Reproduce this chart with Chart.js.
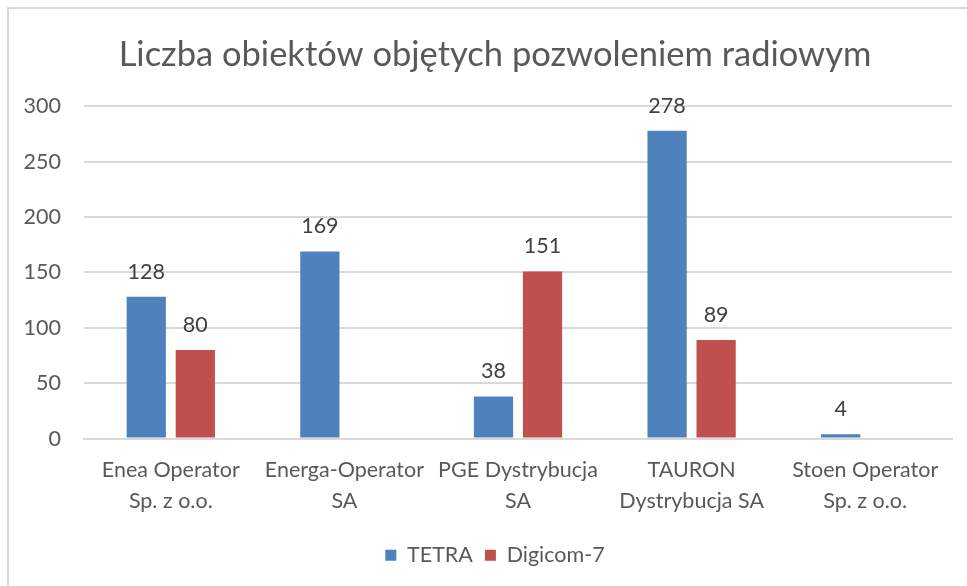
<!DOCTYPE html>
<html>
<head>
<meta charset="utf-8">
<script src="https://cdn.jsdelivr.net/npm/chart.js@4"></script>
<style>
    html, body { margin: 0; padding: 0; background: #fff; }
    #frame {
        position: absolute; left: 7px; top: 7px; width: 980px; height: 600px;
        border-left: 2px solid #d9d9d9; border-top: 2px solid #d9d9d9;
    }
    #wrap { position: absolute; left: 0; top: 0; width: 967px; height: 586px; }
</style>
</head>
<body>
<div id="frame"></div>
<div id="wrap"><canvas id="bar_chart"></canvas></div>
<script>
// Chart data
const title_text = 'Liczba obiektów objętych pozwoleniem radiowym';
const categories = [
    ['Enea Operator', 'Sp. z o.o.'],
    ['Energa-Operator', 'SA'],
    ['PGE Dystrybucja', 'SA'],
    ['TAURON', 'Dystrybucja SA'],
    ['Stoen Operator', 'Sp. z o.o.']
];
const tetra_values = [128, 169, 38, 278, 4];
const digicom_values = [80, null, 151, 89, null];
const y_ticks = [0, 50, 100, 150, 200, 250, 300];

const font_family = 'Lato, "Open Sans", sans-serif';
const font_size = 21.5;

// Value labels above bars
const bar_labels = {
    id: 'bar_labels',
    afterDatasetsDraw(chart){
        let ctx = chart.ctx;
        ctx.save();
        ctx.font = font_size + 'px ' + font_family;
        ctx.fillStyle = '#404040';
        ctx.textAlign = 'center';
        ctx.textBaseline = 'middle';
        chart.data.datasets.forEach(function(ds, i){
            let meta = chart.getDatasetMeta(i);
            meta.data.forEach(function(bar, j){
                if (ds.data[j] == null) return;
                ctx.fillText(ds.data[j], bar.x, bar.y - 25);
            });
        });
        ctx.restore();
    }
};

// Title and legend sit centred on the whole frame, not on the plot
const center_shift = {
    id: 'center_shift',
    afterLayout(chart){
        const dx = 19;
        [chart.titleBlock, chart.legend].forEach(function(box){
            if (!box) return;
            box.left += dx;
            box.right += dx;
        });
    }
};

var ctx = document.getElementById('bar_chart').getContext('2d');

var bar_chart = new Chart(ctx, {
    type: 'bar',
    data: {
        labels: categories,
        datasets: [{
            label: 'TETRA',
            data: tetra_values,
            backgroundColor: '#4F81BD',
            barPercentage: 0.8,
            categoryPercentage: 0.565
        }, {
            label: 'Digicom-7',
            data: digicom_values,
            backgroundColor: '#C0504D',
            barPercentage: 0.8,
            categoryPercentage: 0.565
        }]
    },
    options: {
        responsive: true,
        maintainAspectRatio: false,
        animation: false,
        layout: {
            padding: {left: 0, right: 15, top: 0, bottom: 10}
        },
        plugins: {
            title: {
                display: true,
                text: title_text,
                color: '#595959',
                font: {family: font_family, size: 34.5, weight: 'normal', lineHeight: 1.2},
                padding: {top: 34, bottom: 31}
            },
            legend: {
                position: 'bottom',
                labels: {
                    color: '#595959',
                    font: {family: font_family, size: font_size},
                    boxWidth: 11,
                    boxHeight: 11,
                    padding: 12
                }
            },
            tooltip: {enabled: false}
        },
        scales: {
            x: {
                afterFit: function(scale){
                    scale.height += 8;
                },
                grid: {display: false},
                border: {color: '#d9d9d9', width: 2},
                ticks: {
                    color: '#595959',
                    font: {family: font_family, size: font_size, lineHeight: 1.44},
                    padding: 8,
                    maxRotation: 0,
                    autoSkip: false
                }
            },
            y: {
                min: 0,
                max: 300,
                afterBuildTicks: function(scale){
                    scale.ticks = y_ticks.map(v => ({value: v}));
                },
                afterFit: function(scale){
                    scale.width = 84;
                },
                grid: {color: '#d9d9d9', lineWidth: 2, drawTicks: false},
                border: {display: false},
                ticks: {
                    color: '#595959',
                    font: {family: font_family, size: font_size},
                    padding: 23
                }
            }
        }
    },
    plugins: [bar_labels, center_shift]
});
</script>
</body>
</html>
